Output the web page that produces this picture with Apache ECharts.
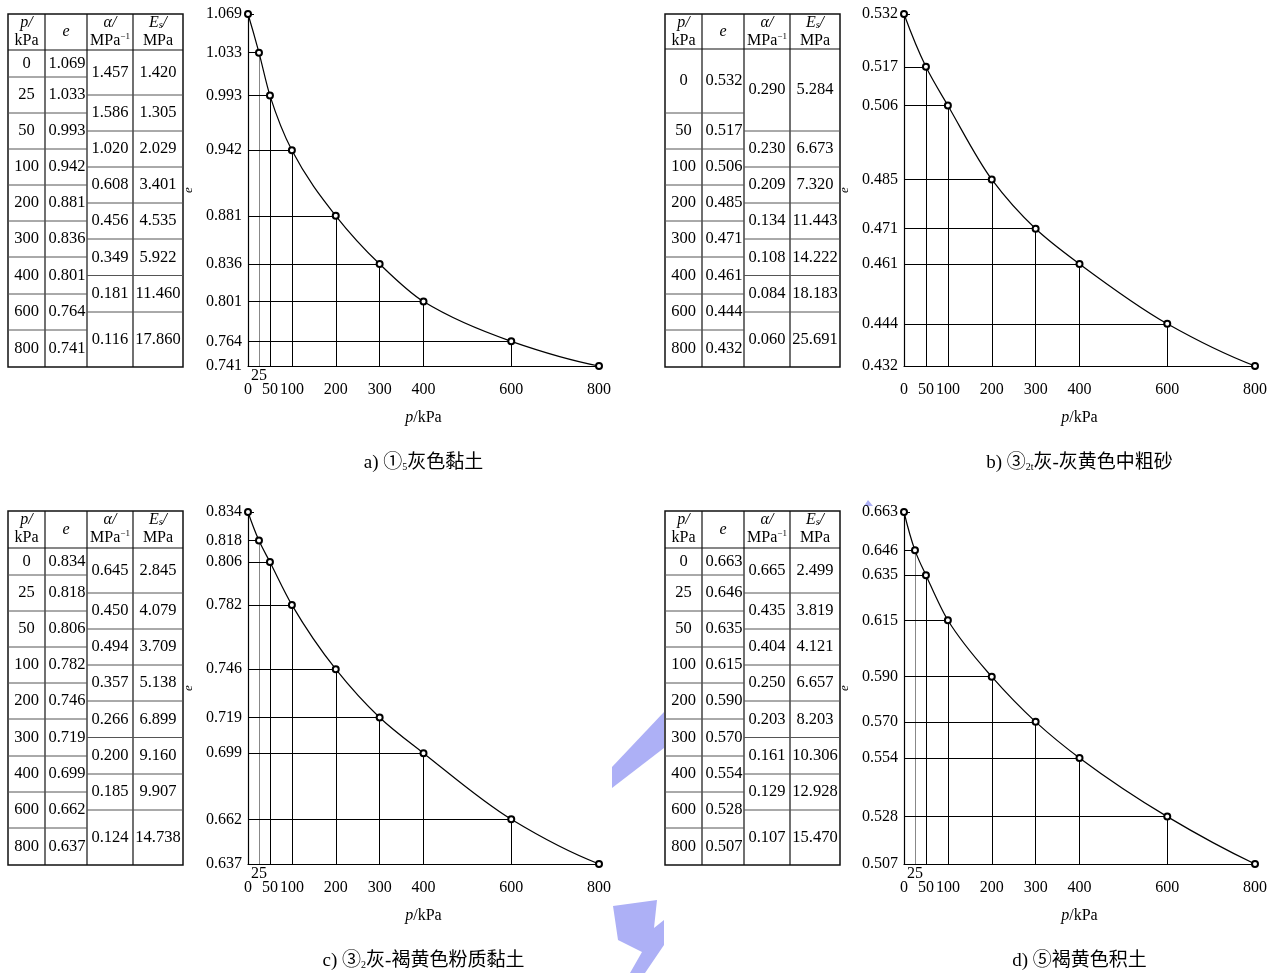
<!DOCTYPE html>
<html><head><meta charset="utf-8">
<script src="https://cdn.jsdelivr.net/npm/echarts@6/dist/echarts.min.js"></script>
<style>html,body{margin:0;padding:0;background:#fff}#c{width:1274px;height:973px}</style>
</head><body><div id="c"></div>
<script>
// ---------------- data ----------------
const pressA = [0,25,50,100,200,300,400,600,800];
const voidA  = [1.069,1.033,0.993,0.942,0.881,0.836,0.801,0.764,0.741];
const alphaA = [1.457,1.586,1.020,0.608,0.456,0.349,0.181,0.116];
const modA   = [1.420,1.305,2.029,3.401,4.535,5.922,11.460,17.860];
const captionA = 'a) ①{sub|5}灰色黏土';

const pressB = [0,50,100,200,300,400,600,800];
const voidB  = [0.532,0.517,0.506,0.485,0.471,0.461,0.444,0.432];
const alphaB = [0.290,0.230,0.209,0.134,0.108,0.084,0.060];
const modB   = [5.284,6.673,7.320,11.443,14.222,18.183,25.691];
const captionB = 'b) ③{sub|2t}灰-灰黄色中粗砂';

const pressC = [0,25,50,100,200,300,400,600,800];
const voidC  = [0.834,0.818,0.806,0.782,0.746,0.719,0.699,0.662,0.637];
const alphaC = [0.645,0.450,0.494,0.357,0.266,0.200,0.185,0.124];
const modC   = [2.845,4.079,3.709,5.138,6.899,9.160,9.907,14.738];
const captionC = 'c) ③{sub|2}灰-褐黄色粉质黏土';

const pressD = [0,25,50,100,200,300,400,600,800];
const voidD  = [0.663,0.646,0.635,0.615,0.590,0.570,0.554,0.528,0.507];
const alphaD = [0.665,0.435,0.404,0.250,0.203,0.161,0.129,0.107];
const modD   = [2.499,3.819,4.121,6.657,8.203,10.306,12.928,15.470];
const captionD = 'd) ⑤褐黄色积土';

// ---------------- layout ----------------
const SERIF = '"Liberation Serif","Times New Roman",serif';
const MIX = '"Liberation Serif","Noto Sans CJK SC",serif';
const panels = [
  {p:pressA,e:voidA,a:alphaA,es:modA,cap:captionA,gx:248,gy:14,tx:8,ty:14,header:36,rows:[27,36,36,36,36,36,37,36,37]},
  {p:pressB,e:voidB,a:alphaB,es:modB,cap:captionB,gx:904,gy:14,tx:665,ty:14,header:35,rows:[64,36,36,36,36,37,36,37]},
  {p:pressC,e:voidC,a:alphaC,es:modC,cap:captionC,gx:248,gy:512,tx:8,ty:511,header:37,rows:[27,36,36,36,36,37,36,36,37]},
  {p:pressD,e:voidD,a:alphaD,es:modD,cap:captionD,gx:904,gy:512,tx:665,ty:511,header:37,rows:[27,36,36,36,36,37,36,36,37]}
];
const GW = 351, GH = 352;
const colW = [37,42,46,50];

const grids=[], xAxes=[], yAxes=[], series=[], graphics=[];

// watermark fragments (background)
const WM = '#adb0f6';
graphics.push({type:'polygon',z:0,shape:{points:[[612,767],[664,712],[664,748],[612,788]]},style:{fill:WM}});
graphics.push({type:'polygon',z:0,shape:{points:[[613,906],[657,900],[654,928],[664,920],[664,945],[645,973],[630,973],[642,952],[618,940]]},style:{fill:WM}});
graphics.push({type:'polygon',z:0,shape:{points:[[864,506],[868,500],[873,506]]},style:{fill:WM}});

function txt(x,y,text,size){
  return {type:'text',z:10,style:{text:text,x:x,y:y,align:'center',verticalAlign:'middle',
    fontSize:size,fontFamily:SERIF,fill:'#000'}};
}
function line(x1,y1,x2,y2,w,c){
  return {type:'line',z:10,shape:{x1:x1,y1:y1,x2:x2,y2:y2},style:{stroke:c||'#111',lineWidth:w||1}};
}

// monotone cubic tangents (data space)
function tangents(xs,ys){
  const n=xs.length, h=[], d=[], m=new Array(n);
  for(let k=0;k<n-1;k++){h.push(xs[k+1]-xs[k]); d.push((ys[k+1]-ys[k])/h[k]);}
  for(let k=1;k<n-1;k++){
    if(d[k-1]*d[k]<=0){m[k]=0;continue;}
    const w1=2*h[k]+h[k-1], w2=h[k]+2*h[k-1];
    m[k]=(w1+w2)/(w1/d[k-1]+w2/d[k]);
  }
  let m0=((2*h[0]+h[1])*d[0]-h[0]*d[1])/(h[0]+h[1]);
  if(m0*d[0]<=0) m0=0; else if(Math.abs(m0)>3*Math.abs(d[0])) m0=3*d[0];
  m[0]=m0;
  const L=n-2;
  let mn=((2*h[L]+h[L-1])*d[L]-h[L]*d[L-1])/(h[L]+h[L-1]);
  if(mn*d[L]<=0) mn=0; else if(Math.abs(mn)>3*Math.abs(d[L])) mn=3*d[L];
  m[n-1]=mn;
  return m;
}

panels.forEach((P,i)=>{
  const emin = P.e[P.e.length-1], emax = P.e[0];
  grids.push({left:P.gx, top:P.gy, width:GW, height:GH, containLabel:false});
  const mainTicks = P.p.filter(v=>v!==25);
  const has25 = P.p.indexOf(25)>=0;
  xAxes.push({type:'value',gridIndex:i,position:'bottom',offset:0,min:0,max:800,
    axisLine:{show:true,onZero:false,lineStyle:{color:'#000',width:1.2}},
    axisTick:{show:false},splitLine:{show:false},
    axisLabel:{customValues:mainTicks,margin:16,fontSize:16,color:'#000',fontFamily:SERIF},
    name:'{i|p}/kPa',nameLocation:'middle',nameGap:44,
    nameTextStyle:{fontSize:16,color:'#000',fontFamily:SERIF,rich:{i:{fontStyle:'italic',fontSize:16,fontFamily:SERIF,color:'#000'}}}
  });
  xAxes.push({type:'value',gridIndex:i,position:'bottom',offset:0,min:0,max:800,show:has25,
    axisLine:{show:false,onZero:false},axisTick:{show:false},splitLine:{show:false},
    axisLabel:{customValues:has25?[25]:[],margin:2,fontSize:16,color:'#000',fontFamily:SERIF}
  });
  yAxes.push({type:'value',gridIndex:i,min:emin,max:emax,
    axisLine:{show:true,onZero:false,lineStyle:{color:'#000',width:1.2}},
    axisTick:{show:true,inside:true,length:6,customValues:P.e,lineStyle:{color:'#000'}},
    splitLine:{show:false},
    axisLabel:{customValues:P.e,formatter:v=>v.toFixed(3),margin:6,fontSize:16,color:'#000',fontFamily:SERIF},
    name:'e',nameLocation:'middle',nameRotate:90,nameGap:53,
    nameTextStyle:{fontSize:13,fontStyle:'italic',color:'#000',fontFamily:SERIF}
  });
  const ml=[];
  P.p.forEach((pv,j)=>{
    if(j===0) return;
    const c = pv===25 ? '#888' : '#000';
    ml.push([{coord:[0,P.e[j]],lineStyle:{color:'#000',width:1}},{coord:[pv,P.e[j]]}]);
    ml.push([{coord:[pv,emin],lineStyle:{color:c,width:1}},{coord:[pv,P.e[j]]}]);
  });
  const pts = P.p.map((pv,j)=>[pv,P.e[j]]);
  const m = tangents(P.p,P.e);
  series.push({type:'custom',xAxisIndex:2*i,yAxisIndex:i,data:pts,z:4,silent:true,animation:false,
    renderItem:function(params,api){
      if(params.dataIndex!==0) return null;
      let d='';
      const s=api.coord(pts[0]); d+='M'+s[0]+' '+s[1];
      for(let k=0;k<pts.length-1;k++){
        const h=pts[k+1][0]-pts[k][0];
        const c1=api.coord([pts[k][0]+h/3, pts[k][1]+m[k]*h/3]);
        const c2=api.coord([pts[k+1][0]-h/3, pts[k+1][1]-m[k+1]*h/3]);
        const e2=api.coord(pts[k+1]);
        d+=' C'+c1[0]+' '+c1[1]+' '+c2[0]+' '+c2[1]+' '+e2[0]+' '+e2[1];
      }
      return {type:'path',shape:{pathData:d},style:{fill:'none',stroke:'#000',lineWidth:1.2}};
    }
  });
  series.push({type:'line',xAxisIndex:2*i,yAxisIndex:i,data:pts,
    symbol:'emptyCircle',symbolSize:6,z:5,
    lineStyle:{opacity:0,width:0},
    itemStyle:{color:'#000',borderColor:'#000',borderWidth:0.9},
    animation:false,
    markLine:{silent:true,symbol:['none','none'],animation:false,label:{show:false},z:3,
      lineStyle:{color:'#000',width:1,type:'solid'},data:ml}
  });

  // -------- table --------
  const xs=[P.tx]; colW.forEach(w=>xs.push(xs[xs.length-1]+w));
  const ys=[P.ty, P.ty+P.header]; P.rows.forEach(h=>ys.push(ys[ys.length-1]+h));
  const bottom = ys[ys.length-1];
  graphics.push({type:'rect',z:9,shape:{x:xs[0],y:ys[0],width:xs[4]-xs[0],height:bottom-ys[0]},
    style:{fill:'#fff',stroke:'#111',lineWidth:1.5}});
  for(let k=1;k<4;k++) graphics.push(line(xs[k],ys[0],xs[k],bottom,1.2));
  graphics.push(line(xs[0],ys[1],xs[4],ys[1],1.2));
  for(let k=2;k<ys.length-1;k++) graphics.push(line(xs[0],ys[k],xs[2],ys[k],1,'#555'));
  const n = P.rows.length;
  const ab=[ys[1]];
  for(let r=1;r<=n-2;r++) ab.push((ys[r+1]+ys[r+2])/2);
  ab.push(bottom);
  for(let k=1;k<ab.length-1;k++) graphics.push(line(xs[2],ab[k],xs[4],ab[k],1,'#555'));
  // header
  const h1 = ys[0]+8.5, h2 = ys[0]+26.5, hm=(ys[0]+ys[1])/2;
  const it = (x,y,t)=>({type:'text',z:10,style:{text:t,x:x,y:y,align:'center',verticalAlign:'middle',fontSize:16,fontStyle:'italic',fontFamily:SERIF,fill:'#000'}});
  graphics.push(it((xs[0]+xs[1])/2,h1,'p/'));
  graphics.push(txt((xs[0]+xs[1])/2,h2,'kPa',16));
  graphics.push(it((xs[1]+xs[2])/2,hm,'e'));
  graphics.push(it((xs[2]+xs[3])/2,h1,'α/'));
  graphics.push({type:'text',z:10,style:{text:'MPa{sup|−1}',x:(xs[2]+xs[3])/2,y:h2,align:'center',verticalAlign:'middle',fontSize:16,fontFamily:SERIF,fill:'#000',
    rich:{sup:{fontSize:9,fontFamily:SERIF,verticalAlign:'top',fill:'#000'}}}});
  graphics.push({type:'text',z:10,style:{text:'{i|E}{s|s}{i|/}',x:(xs[3]+xs[4])/2,y:h1,align:'center',verticalAlign:'middle',fontSize:16,fontFamily:SERIF,fill:'#000',
    rich:{i:{fontSize:16,fontStyle:'italic',fontFamily:SERIF,fill:'#000'},s:{fontSize:10,fontStyle:'italic',fontFamily:SERIF,verticalAlign:'bottom',fill:'#000'}}}});
  graphics.push(txt((xs[3]+xs[4])/2,h2,'MPa',16));
  // body
  P.p.forEach((pv,j)=>{
    const cy=(ys[j+1]+ys[j+2])/2;
    graphics.push(txt((xs[0]+xs[1])/2,cy,String(pv),16.5));
    graphics.push(txt((xs[1]+xs[2])/2+1,cy,P.e[j].toFixed(3),16.5));
  });
  P.a.forEach((av,j)=>{
    const cy=(ab[j]+ab[j+1])/2;
    graphics.push(txt((xs[2]+xs[3])/2,cy,av.toFixed(3),16.5));
    graphics.push(txt((xs[3]+xs[4])/2,cy,P.es[j].toFixed(3),16.5));
  });
  // caption
  graphics.push({type:'text',z:10,style:{text:P.cap,x:P.gx+GW/2,y:P.gy+449,align:'center',verticalAlign:'middle',
    fontSize:19,fontFamily:MIX,fill:'#000',
    rich:{sub:{fontSize:10,fontFamily:SERIF,verticalAlign:'bottom',fill:'#000'}}}});
});

const chart = echarts.init(document.getElementById('c'),null,{renderer:'canvas'});
chart.setOption({
  backgroundColor:'#fff',
  animation:false,
  grid:grids, xAxis:xAxes, yAxis:yAxes, series:series,
  graphic:{elements:graphics}
});
</script></body></html>
